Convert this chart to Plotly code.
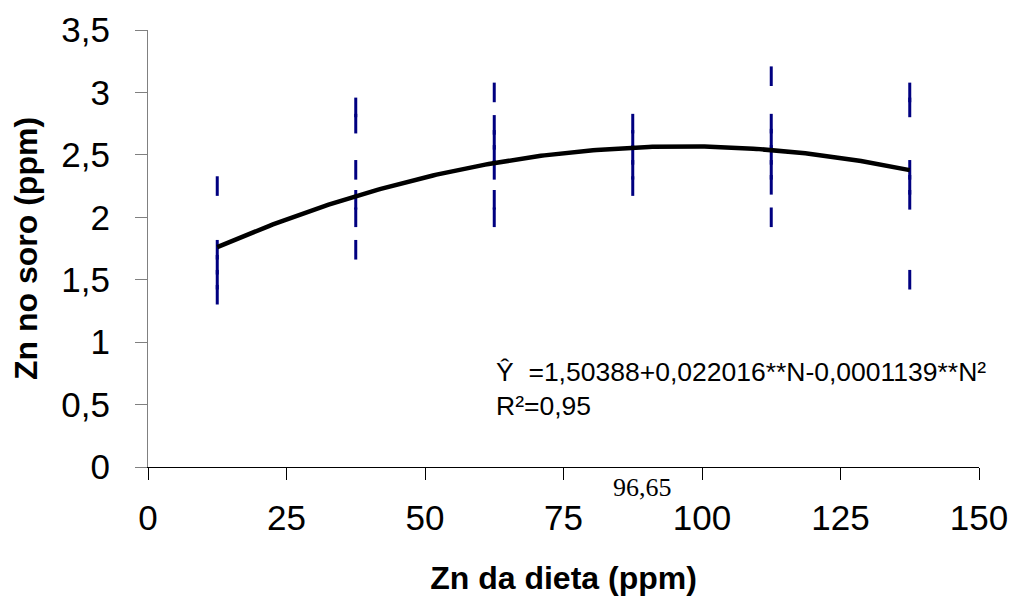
import plotly.graph_objects as go
import numpy as np

# Observed serum Zn (ppm) per dietary Zn level (ppm)
diet_levels = [12.5, 37.5, 62.5, 87.5, 112.5, 137.5]
serum_g1 = [2.25, 1.74, 1.62, 1.50, 1.38]
serum_g2 = [2.88, 2.75, 2.38, 2.14, 2.00, 1.74]
serum_g3 = [3.00, 2.74, 2.62, 2.50, 2.38, 2.14, 2.00]
serum_g4 = [2.75, 2.62, 2.50, 2.38, 2.25]
serum_g5 = [3.13, 2.75, 2.63, 2.50, 2.38, 2.26, 2.00]
serum_g6 = [3.00, 2.88, 2.38, 2.26, 2.14, 1.50]
groups = [serum_g1, serum_g2, serum_g3, serum_g4, serum_g5, serum_g6]

# Regression coefficients (from the equation shown)
coef = [1.50388, 0.022016, -0.0001139]
curve_x = np.linspace(12.5, 137.5, 200)
curve_y = coef[0] + coef[1] * curve_x + coef[2] * curve_x ** 2

x_ticks = [0, 25, 50, 75, 100, 125, 150]
y_ticks = [0, 0.5, 1, 1.5, 2, 2.5, 3, 3.5]
y_ticklabels = ["0", "0,5", "1", "1,5", "2", "2,5", "3", "3,5"]

px_, py_ = [], []
for lvl, vals in zip(diet_levels, groups):
    px_ += [lvl] * len(vals)
    py_ += vals

fig = go.Figure()
fig.add_trace(go.Scatter(
    x=px_, y=py_, mode="markers",
    marker=dict(symbol="line-ns", size=14, color="#000080",
                line=dict(color="#000080", width=3)),
    showlegend=False, cliponaxis=False))
fig.add_trace(go.Scatter(
    x=curve_x, y=curve_y, mode="lines",
    line=dict(color="black", width=4.5), showlegend=False))

font_main = "Liberation Sans, Arial, sans-serif"
fig.update_layout(
    width=1009, height=596,
    margin=dict(l=140, r=38, t=22, b=137, autoexpand=False),
    plot_bgcolor="white", paper_bgcolor="white",
    font=dict(family=font_main, color="black"),
    xaxis=dict(range=[0, 150], tickvals=x_ticks, ticks="outside", ticklen=12,
               tickcolor="black", linecolor="black", linewidth=1, showline=True,
               showgrid=False, zeroline=False, tickfont=dict(size=35),
               ticklabelstandoff=8, automargin=False,
               title=dict(text="<b>Zn da dieta (ppm)</b>", font=dict(size=32), standoff=30)),
    yaxis=dict(range=[0, 3.5], tickvals=y_ticks, ticktext=y_ticklabels,
               ticks="outside", ticklen=12, tickcolor="#808080",
               linecolor="#808080", linewidth=1, showline=True,
               showgrid=False, zeroline=False, tickfont=dict(size=35),
               ticklabelstandoff=18, automargin=False,
               title=dict(text="<b>Zn no soro (ppm)</b>", font=dict(size=32), standoff=16)),
    annotations=[
        dict(x=62.5, y=0.763, xref="x", yref="y", xanchor="left", yanchor="middle",
             text="Ŷ\u00a0\u00a0=1,50388+0,022016**N-0,0001139**N²", showarrow=False,
             font=dict(size=26.5)),
        dict(x=62.4, y=0.49, xref="x", yref="y", xanchor="left", yanchor="middle",
             text="R²=0,95", showarrow=False, font=dict(size=26.5)),
        dict(x=89.2, y=-0.046, xref="x", yref="paper", xanchor="center", yanchor="middle",
             text="96,65", showarrow=False,
             font=dict(size=26, family="Liberation Serif, Times New Roman, serif")),
    ],
)

fig.write_html("out.html")
